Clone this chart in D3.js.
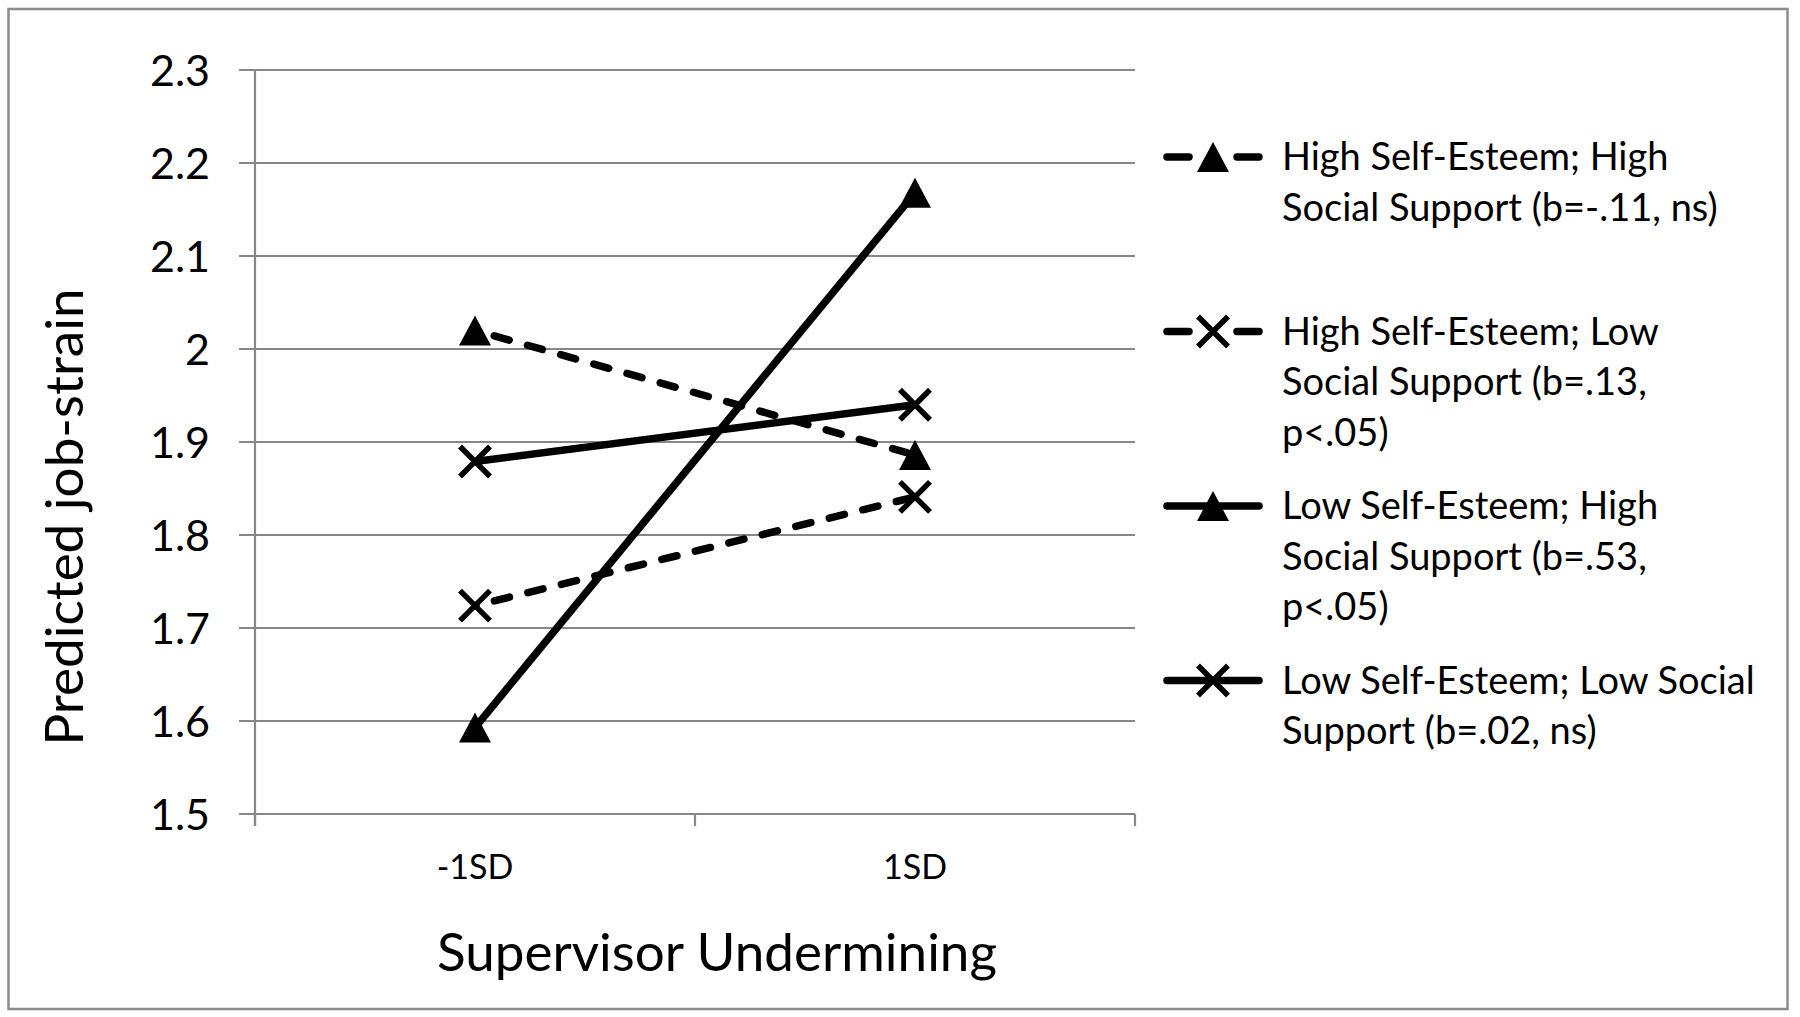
<!DOCTYPE html>
<html>
<head>
<meta charset="utf-8">
<script src="https://cdn.jsdelivr.net/npm/d3@7"></script>
<style>
  html, body { margin: 0; padding: 0; background: #fff; }
  svg { display: block; }
  text { font-family: Lato, "Open Sans", sans-serif; fill: #000; }
</style>
</head>
<body>
<svg id="chart" width="1800" height="1017"></svg>
<script>
// ---------- data ----------
const categories = ["-1SD", "1SD"];
const yTickValues = [1.5, 1.6, 1.7, 1.8, 1.9, 2.0, 2.1, 2.2, 2.3];
const yTickLabels = ["1.5", "1.6", "1.7", "1.8", "1.9", "2", "2.1", "2.2", "2.3"];
const seriesNames = [
  ["High Self-Esteem; High", "Social Support (b=-.11, ns)"],
  ["High Self-Esteem; Low", "Social Support (b=.13,", "p<.05)"],
  ["Low Self-Esteem; High", "Social Support (b=.53,", "p<.05)"],
  ["Low Self-Esteem; Low Social", "Support (b=.02, ns)"]
];
const highSEHighSS = [2.02, 1.886];
const highSELowSS  = [1.724, 1.841];
const lowSEHighSS  = [1.593, 2.168];
const lowSELowSS   = [1.879, 1.940];
const seriesValues = [highSEHighSS, highSELowSS, lowSEHighSS, lowSELowSS];
const seriesDashed = [true, true, false, false];
const seriesMarker = ["triangle", "x", "triangle", "x"];
const yTitle = "Predicted job-strain";
const xTitle = "Supervisor Undermining";

// ---------- layout ----------
const svg = d3.select("#chart");
const plot = { left: 255, right: 1135, top: 70, bottom: 814 };
const grey = "#878787";

svg.append("rect").attr("x", 8.5).attr("y", 9).attr("width", 1779).attr("height", 1000)
  .attr("fill", "#fff").attr("stroke", "#8c8c8c").attr("stroke-width", 2.5);

const x = d3.scaleBand().domain(categories).range([plot.left, plot.right]).padding(0);
const y = d3.scaleLinear().domain([1.5, 2.3]).range([plot.bottom, plot.top]);
const cx = c => x(c) + x.bandwidth() / 2;

// gridlines
const g = svg.append("g");
g.selectAll("line.grid").data(yTickValues).join("line")
  .attr("class", "grid")
  .attr("x1", plot.left - 16).attr("x2", plot.right)
  .attr("y1", d => y(d)).attr("y2", d => y(d))
  .attr("stroke", grey).attr("stroke-width", 2.2);

// y axis line
g.append("line").attr("x1", plot.left).attr("x2", plot.left)
  .attr("y1", plot.top).attr("y2", plot.bottom + 12)
  .attr("stroke", grey).attr("stroke-width", 2.2);

// x tick marks at category boundaries
const xBounds = categories.map(c => x(c)).concat([plot.right]);
g.selectAll("line.xt").data(xBounds).join("line")
  .attr("class", "xt")
  .attr("x1", d => d).attr("x2", d => d)
  .attr("y1", plot.bottom).attr("y2", plot.bottom + 12)
  .attr("stroke", grey).attr("stroke-width", 2.2);

// y tick labels via axis
const yAxis = d3.axisLeft(y).tickValues(yTickValues)
  .tickFormat((d, i) => yTickLabels[i]).tickSize(0).tickPadding(0);
const ya = svg.append("g").attr("transform", `translate(${210},0)`).call(yAxis);
ya.select(".domain").remove();
ya.selectAll("text").attr("font-size", 43).attr("font-family", "Lato, sans-serif").attr("fill", "#000").attr("dy", "0.35em");

// x tick labels
const xAxis = d3.axisBottom(x).tickSize(0).tickPadding(0);
const xa = svg.append("g").attr("transform", `translate(0,${867})`).call(xAxis);
xa.select(".domain").remove();
xa.selectAll("text").attr("font-size", 34).attr("font-family", "Lato, sans-serif").attr("fill", "#000").attr("dy", "0.35em");

// axis titles
svg.append("text").attr("transform", `translate(64,${517}) rotate(-90)`)
  .attr("text-anchor", "middle").attr("dy", "0.35em").attr("font-size", 53).text(yTitle);
svg.append("text").attr("x", 717).attr("y", 952)
  .attr("text-anchor", "middle").attr("dy", "0.35em").attr("font-size", 53).text(xTitle);

// ---------- series ----------
const LW = 7.5;
const dash = "15.5,19";
function drawMarker(sel, type, px, py) {
  if (type === "triangle") {
    const w = 32, h = 30;
    sel.append("path")
      .attr("d", `M${px},${py - h / 2}L${px + w / 2},${py + h / 2}L${px - w / 2},${py + h / 2}Z`)
      .attr("fill", "#000");
  } else {
    const s = 15;
    sel.append("path")
      .attr("d", `M${px - s},${py - s}L${px + s},${py + s}M${px - s},${py + s}L${px + s},${py - s}`)
      .attr("stroke", "#000").attr("stroke-width", 5.5).attr("fill", "none");
  }
}

const line = d3.line().x((d, i) => cx(categories[i])).y(d => y(d));
const sg = svg.append("g");
seriesValues.forEach((vals, k) => {
  sg.append("path").datum(vals).attr("d", line)
    .attr("fill", "none").attr("stroke", "#000").attr("stroke-width", LW)
    .attr("stroke-linecap", seriesDashed[k] ? "round" : "butt")
    .attr("stroke-dasharray", seriesDashed[k] ? dash : null)
    .attr("stroke-dashoffset", seriesDashed[k] ? -20 : null);
});
seriesValues.forEach((vals, k) => {
  vals.forEach((v, i) => drawMarker(sg, seriesMarker[k], cx(categories[i]), y(v)));
});

// ---------- legend ----------
const lg = svg.append("g");
const legTop = 157, legStep = 174.5, lineH = 50.5;
const symX1 = 1163, symX2 = 1263, textX = 1282;
seriesNames.forEach((lines, k) => {
  const ly = legTop + k * legStep;
  if (seriesDashed[k]) {
    lg.append("line").attr("x1", symX1 + 4).attr("x2", symX1 + 26).attr("y1", ly).attr("y2", ly)
      .attr("stroke", "#000").attr("stroke-width", LW).attr("stroke-linecap", "round");
    lg.append("line").attr("x1", symX2 - 26).attr("x2", symX2 - 4).attr("y1", ly).attr("y2", ly)
      .attr("stroke", "#000").attr("stroke-width", LW).attr("stroke-linecap", "round");
  } else {
    lg.append("line").attr("x1", symX1 + 4).attr("x2", symX2 - 4).attr("y1", ly).attr("y2", ly)
      .attr("stroke", "#000").attr("stroke-width", LW).attr("stroke-linecap", "round");
  }
  drawMarker(lg, seriesMarker[k], (symX1 + symX2) / 2, ly);
  const t = lg.append("text").attr("x", textX).attr("y", ly).attr("font-size", 38);
  lines.forEach((s, j) => {
    t.append("tspan").attr("x", textX).attr("y", ly + j * lineH).attr("dy", "0.35em").text(s);
  });
});
</script>
</body>
</html>
